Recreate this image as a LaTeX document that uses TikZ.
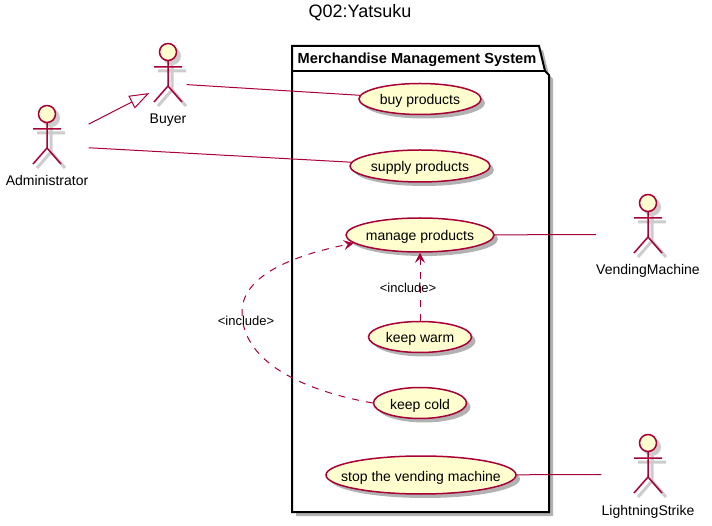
\documentclass[tikz,border=0pt]{standalone}
\usepackage{fontspec}
\setmainfont{Liberation Sans}
\usetikzlibrary{arrows.meta,fit,shadows,shapes.geometric}
\definecolor{umlline}{HTML}{A80036}
\definecolor{umlfill}{HTML}{FEFECE}
\newcommand{\stickman}[3]{\draw[#1] (#2-14,#3+15) -- (#2+14,#3+15) (#2,#3+8) -- (#2,#3+34) (#2-14,#3+50) -- (#2,#3+34) -- (#2+14,#3+50);}

\begin{document}
\begin{tikzpicture}[x=1pt,y=-1pt,
  softshadow/.style={drop shadow={shadow xshift=4pt,shadow yshift=-4pt,fill=black,opacity=0.3}},
  usecase/.style={ellipse,draw=umlline,line width=1.5pt,fill=umlfill,softshadow,inner xsep=-20pt,inner ysep=-4pt,text height=12pt,text depth=0pt,font=\fontsize{14}{16}\selectfont},
  actorname/.style={inner sep=0pt,text height=12pt,text depth=0pt,font=\fontsize{14}{16}\selectfont},
  actorline/.style={draw=umlline,line width=1.5pt},
  actorshade/.style={draw=black!20,line width=3pt},
  conn/.style={draw=umlline,line width=1pt},
  incl/.style={conn,dash pattern=on 7pt off 7pt,-{Stealth[length=10pt,width=10pt,inset=4pt]}},
  inherit/.style={conn,-{Triangle[open,length=20pt,width=14pt,fill=white]}},
  incltext/.style={inner sep=0pt,text height=11.5pt,text depth=0pt,font=\fontsize{13}{15}\selectfont}]
  \useasboundingbox (0,0) rectangle (712,526);
  \node[inner sep=0pt,font=\fontsize{18}{20}\selectfont] (title) at (360,13) {Q02:Yatsuku};
  % package frame
  \draw[draw=black,fill=white,line width=2pt,softshadow] (292,46) -- (539,46) -- (545,71) -- (549,75) -- (549,512) -- (292,512) -- cycle;
  \draw[black,line width=1.5pt] (292,71) -- (545,71);
  \node[inner sep=0pt,text height=12pt,text depth=0pt,font=\fontsize{14.6}{16}\selectfont\bfseries] (pkg) at (417,58) {Merchandise Management System};
  % use cases
  \node[usecase,minimum width=122pt,minimum height=31pt] (buy) at (420,99) {buy products};
  \node[usecase,minimum width=140pt,minimum height=32pt] (supply) at (420,166) {supply products};
  \node[usecase,minimum width=148pt,minimum height=34pt] (manage) at (420,235) {manage products};
  \node[usecase,minimum width=103pt,minimum height=31pt] (warm) at (420,337) {keep warm};
  \node[usecase,minimum width=93pt,minimum height=31pt] (cold) at (420,403) {keep cold};
  \node[usecase,minimum width=190pt,minimum height=38pt] (stop) at (421,475) {stop the vending machine};
  % actors
  \foreach \nm/\x/\y/\txt in {admin/47/114/Administrator,buyer/168/52/Buyer,vm/648/203/VendingMachine,ls/648/443/LightningStrike}{
    \stickman{actorshade}{\x+4}{\y+4}
    \fill[black!20] (\x+4,\y+4) circle (9pt);
    \stickman{actorline}{\x}{\y}
    \node[circle,draw=umlline,fill=umlfill,line width=1.5pt,minimum size=17pt,inner sep=0pt] (\nm head) at (\x,\y) {};
    \node[actorname] (\nm text) at (\x,\y+66) {\txt};
    \node[fit=(\nm head)(\nm text),inner sep=0pt] (\nm) {};
  }
  % connectors
  \draw[inherit] (admin) -- (buyer);
  \draw[conn] (buyer) -- (buy);
  \draw[conn] (admin) -- (supply);
  \draw[conn] (manage) -- (vm);
  \draw[conn] (stop) -- (ls);
  \draw[incl] (warm) -- (manage);
  \coordinate (bend) at (242,312);
  \draw[incl] (cold.west) .. controls (310,392) and (242,365) .. (bend) .. controls (242,270) and (310,252) .. (manage.187);
  \node[incltext] (inclwarm) at (408,287) {<include>};
  \node[incltext] (inclcold) at (246,320) {<include>};
\end{tikzpicture}
\end{document}
